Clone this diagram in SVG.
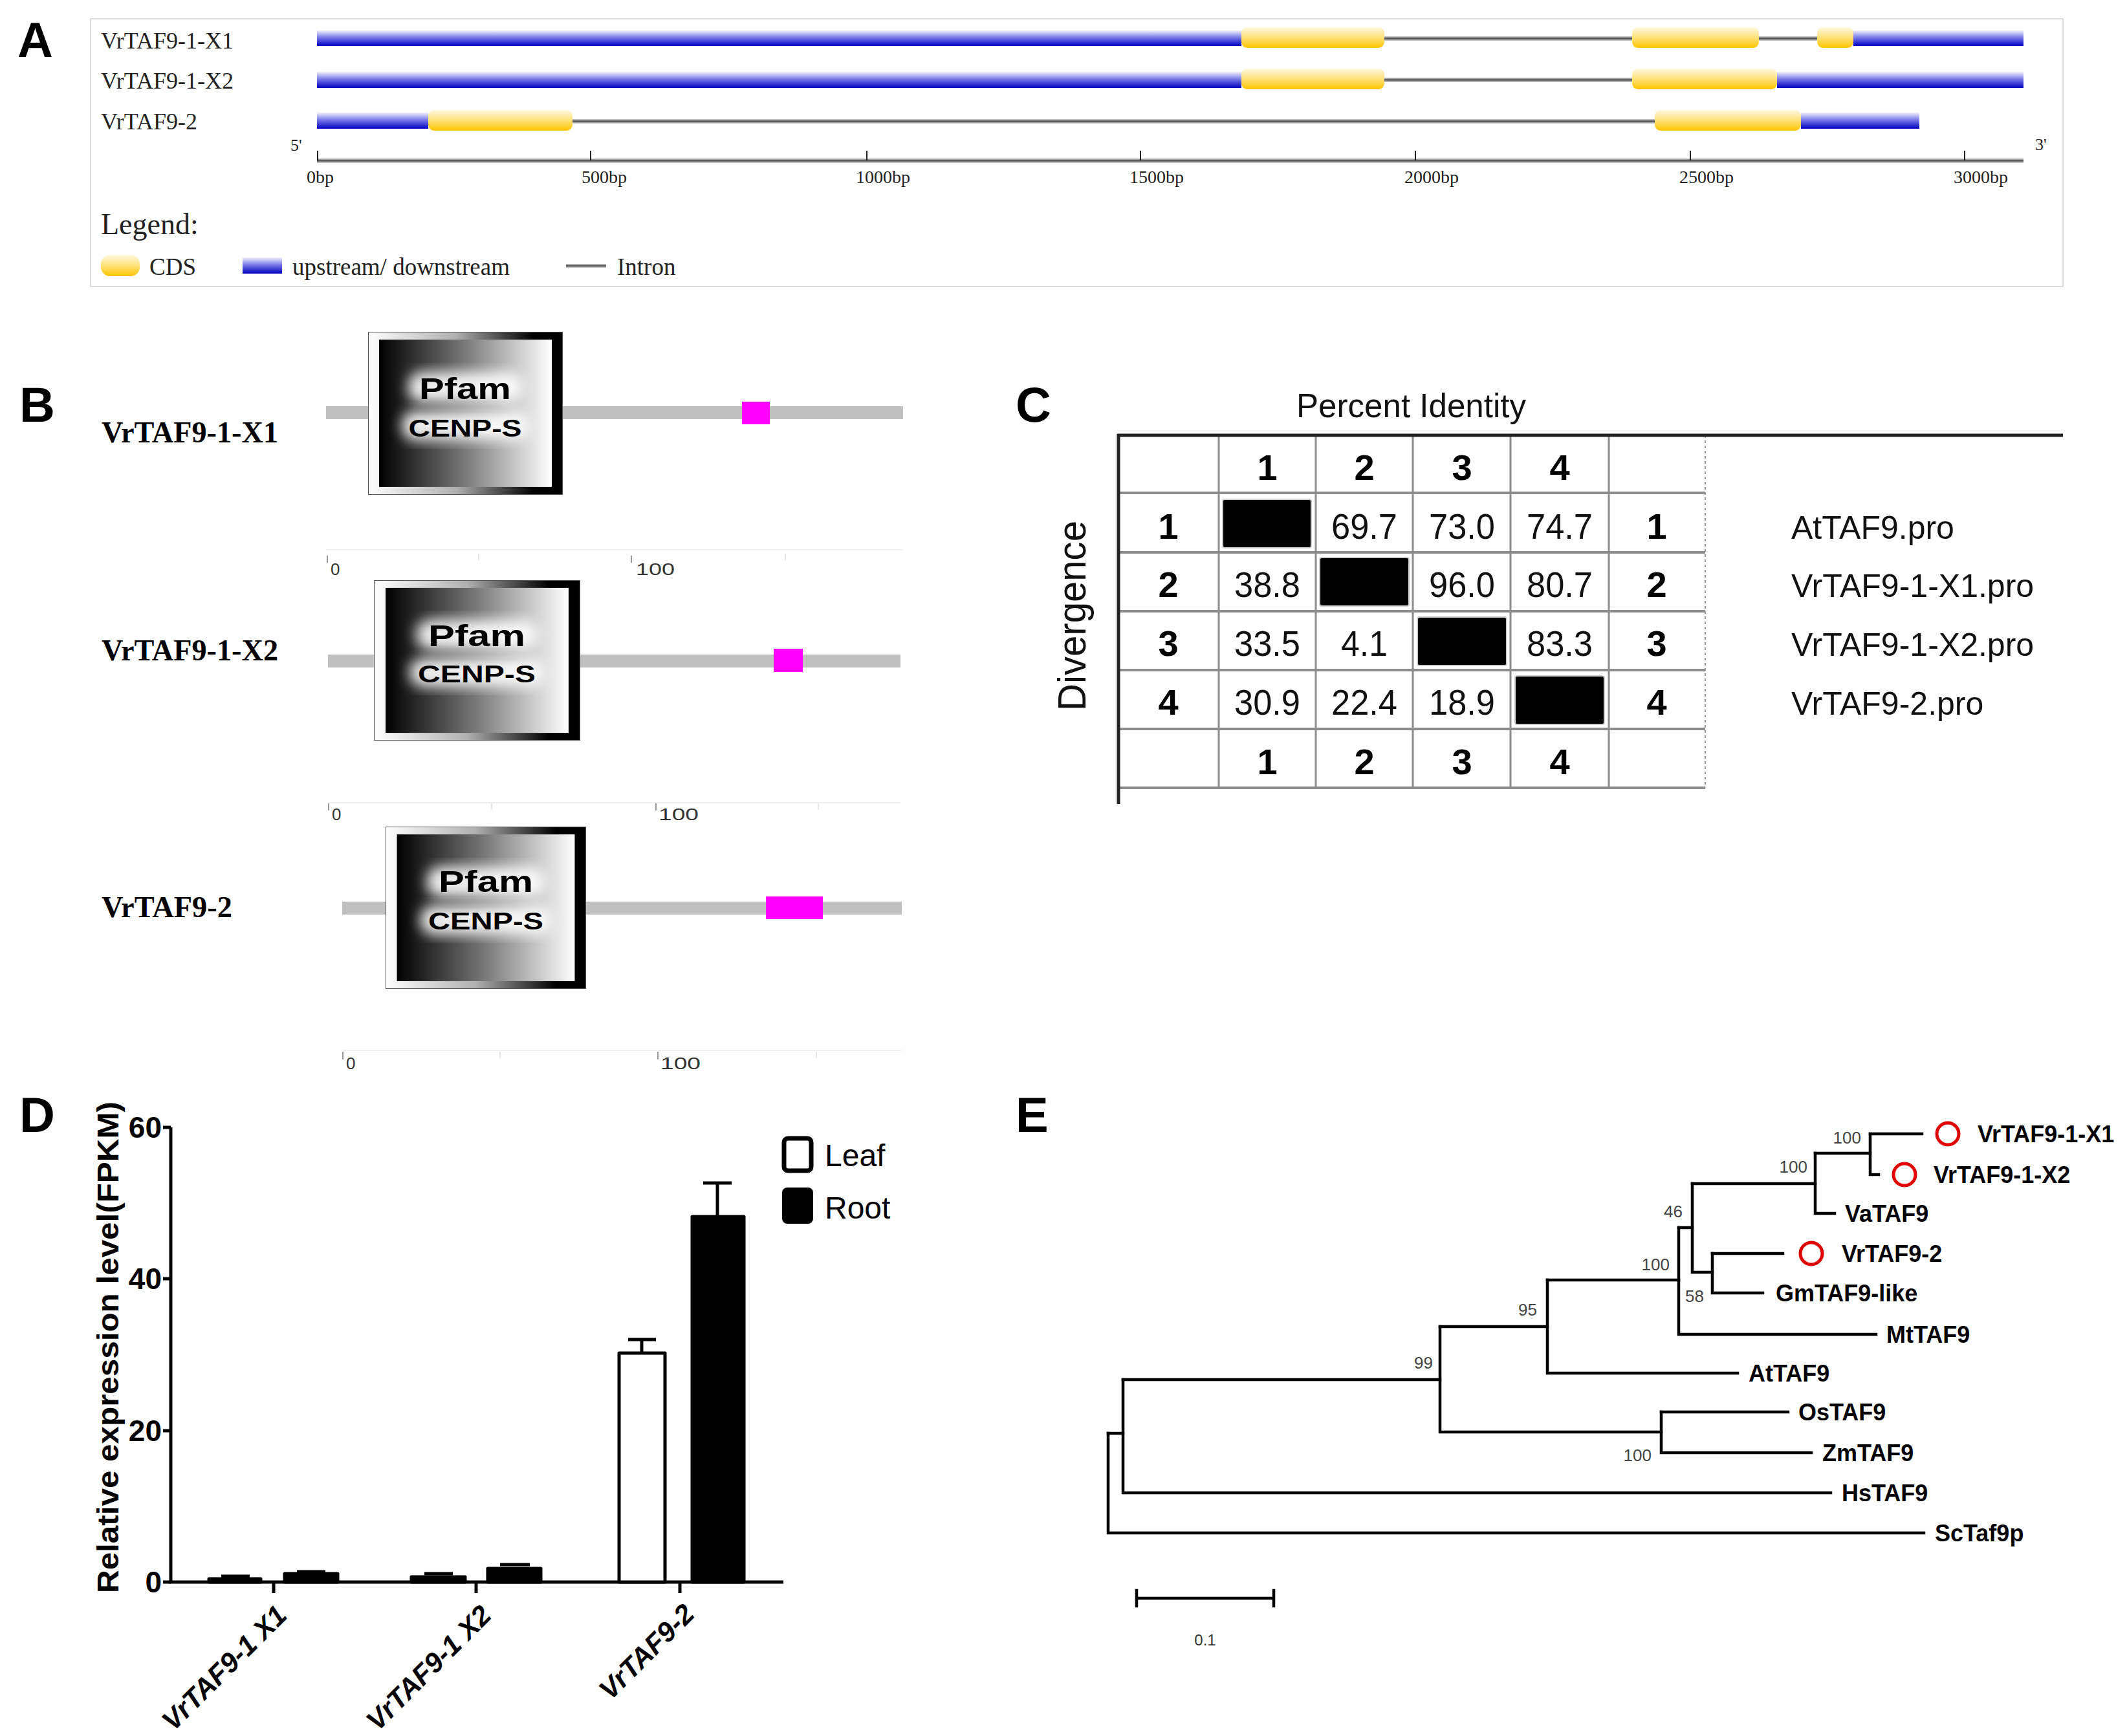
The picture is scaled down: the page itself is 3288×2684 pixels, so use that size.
<svg xmlns="http://www.w3.org/2000/svg" width="3288" height="2684" viewBox="0 0 3288 2684">
<style>
.panel{font-family:"Liberation Sans",Arial,sans-serif;font-weight:bold;font-size:76px;fill:#000}
.serif{font-family:"Liberation Serif","Times New Roman",serif;fill:#222}
.blab{font-family:"Liberation Serif","Times New Roman",serif;font-weight:bold;font-size:46px;fill:#000}
.sans{font-family:"Liberation Sans",Arial,sans-serif}
.b{font-weight:bold}
.tick{stroke:#222;stroke-width:2}
.tree{stroke:#000;stroke-width:4.5;fill:none;stroke-linecap:square}
.boot{font-family:"Liberation Sans",Arial,sans-serif;font-size:26px;fill:#444;text-anchor:end}
.leafname{font-family:"Liberation Sans",Arial,sans-serif;font-weight:bold;font-size:36px;fill:#000}
.circ{fill:none;stroke:#e00000;stroke-width:5}
.rowline{stroke:#8c8c8c;stroke-width:4}
.colline{stroke:#8c8c8c;stroke-width:3}
.num{font-family:"Liberation Sans",Arial,sans-serif;font-size:56px;text-anchor:middle;fill:#111}
.bnum{font-family:"Liberation Sans",Arial,sans-serif;font-weight:bold;font-size:56px;text-anchor:middle;fill:#000}
.pname{font-family:"Liberation Sans",Arial,sans-serif;font-size:50px;fill:#111}
.ax{stroke:#000;stroke-width:5;fill:none}
</style>
<defs>
<linearGradient id="gBlue" x1="0" y1="0" x2="0" y2="1"><stop offset="0" stop-color="#f2f2ff"/><stop offset="0.45" stop-color="#7a7ae8"/><stop offset="1" stop-color="#0000c0"/></linearGradient>
<linearGradient id="gYel" x1="0" y1="0" x2="0" y2="1"><stop offset="0" stop-color="#fff8e0"/><stop offset="0.5" stop-color="#ffe27a"/><stop offset="1" stop-color="#ffc400"/></linearGradient>
<linearGradient id="gIntron" x1="0" y1="0" x2="0" y2="1"><stop offset="0" stop-color="#d8d8d8"/><stop offset="0.5" stop-color="#505050"/><stop offset="1" stop-color="#d8d8d8"/></linearGradient>
<linearGradient id="gFrame" x1="0" y1="0" x2="1" y2="0"><stop offset="0" stop-color="#ffffff"/><stop offset="0.45" stop-color="#b0b0b0"/><stop offset="0.85" stop-color="#000"/><stop offset="1" stop-color="#000"/></linearGradient>
<linearGradient id="gInner" x1="0" y1="0" x2="1" y2="0"><stop offset="0" stop-color="#000"/><stop offset="0.5" stop-color="#7a7a7a"/><stop offset="1" stop-color="#fff"/></linearGradient>
<filter id="blur" x="-30%" y="-30%" width="160%" height="160%"><feGaussianBlur stdDeviation="10"/></filter>
<symbol id="pfamBox" viewBox="0 0 300 250" preserveAspectRatio="none">
<rect x="0" y="0" width="300" height="250" fill="url(#gFrame)" stroke="#555" stroke-width="2"/>
<rect x="17" y="12" width="266" height="226" fill="url(#gInner)"/>
<rect x="62" y="62" width="176" height="46" rx="20" fill="#fff" opacity="0.9" filter="url(#blur)"/>
<rect x="52" y="122" width="196" height="44" rx="20" fill="#fff" opacity="0.9" filter="url(#blur)"/>
</symbol>
</defs>
<rect width="3288" height="2684" fill="#fff"/>

<!-- Panel A -->
<g id="panelA">
<rect x="140" y="29" width="3049" height="414" fill="#fff" stroke="#dcdcdc" stroke-width="2"/>
<text class="panel" x="27" y="88">A</text>
<g id="A-row1">
<text class="serif" x="156" y="75" font-size="36">VrTAF9-1-X1</text>
<rect x="490" y="47" width="1429" height="24" fill="url(#gBlue)"/>
<rect x="2140" y="56" width="383" height="7" fill="url(#gIntron)"/>
<rect x="2719" y="56" width="90" height="7" fill="url(#gIntron)"/>
<rect x="1919" y="42" width="221" height="32" rx="9" fill="url(#gYel)"/>
<rect x="2523" y="42" width="196" height="32" rx="9" fill="url(#gYel)"/>
<rect x="2809" y="42" width="56" height="32" rx="9" fill="url(#gYel)"/>
<rect x="2865" y="47" width="263" height="24" fill="url(#gBlue)"/>
</g>
<g id="A-row2">
<text class="serif" x="156" y="137" font-size="36">VrTAF9-1-X2</text>
<rect x="490" y="111" width="1429" height="25" fill="url(#gBlue)"/>
<rect x="2140" y="120" width="383" height="7" fill="url(#gIntron)"/>
<rect x="1919" y="106" width="221" height="32" rx="9" fill="url(#gYel)"/>
<rect x="2523" y="106" width="224" height="32" rx="9" fill="url(#gYel)"/>
<rect x="2747" y="111" width="381" height="25" fill="url(#gBlue)"/>
</g>
<g id="A-row3">
<text class="serif" x="156" y="200" font-size="36">VrTAF9-2</text>
<rect x="490" y="174" width="172" height="25" fill="url(#gBlue)"/>
<rect x="885" y="184" width="1673" height="7" fill="url(#gIntron)"/>
<rect x="662" y="170" width="223" height="32" rx="9" fill="url(#gYel)"/>
<rect x="2558" y="170" width="226" height="32" rx="9" fill="url(#gYel)"/>
<rect x="2784" y="174" width="183" height="25" fill="url(#gBlue)"/>
</g>
<g id="A-axis">
<rect x="490" y="245" width="2638" height="7" fill="url(#gIntron)"/>
<line class="tick" x1="491" y1="233" x2="491" y2="248"/>
<line class="tick" x1="913" y1="233" x2="913" y2="248"/>
<line class="tick" x1="1340" y1="233" x2="1340" y2="248"/>
<line class="tick" x1="1763" y1="233" x2="1763" y2="248"/>
<line class="tick" x1="2188" y1="233" x2="2188" y2="248"/>
<line class="tick" x1="2613" y1="233" x2="2613" y2="248"/>
<line class="tick" x1="3037" y1="233" x2="3037" y2="248"/>
<text class="serif" font-size="28" x="474" y="283">0bp</text>
<text class="serif" font-size="28" x="899" y="283">500bp</text>
<text class="serif" font-size="28" x="1323" y="283">1000bp</text>
<text class="serif" font-size="28" x="1746" y="283">1500bp</text>
<text class="serif" font-size="28" x="2171" y="283">2000bp</text>
<text class="serif" font-size="28" x="2596" y="283">2500bp</text>
<text class="serif" font-size="28" x="3020" y="283">3000bp</text>
<text class="serif" font-size="26" x="449" y="233">5'</text>
<text class="serif" font-size="26" x="3146" y="232">3'</text>
</g>
<g id="A-legend">
<text class="serif" font-size="46" x="156" y="362">Legend:</text>
<rect x="156" y="394" width="60" height="33" rx="14" fill="url(#gYel)"/>
<text class="serif" font-size="37" x="231" y="425">CDS</text>
<rect x="375" y="398" width="61" height="25" fill="url(#gBlue)"/>
<text class="serif" font-size="37" x="452" y="425">upstream/ downstream</text>
<rect x="875" y="408" width="62" height="6" fill="url(#gIntron)"/>
<text class="serif" font-size="37" x="954" y="425">Intron</text>
</g>
</g>

<!-- Panel B -->
<g id="panelB">
<text class="panel" x="30" y="652">B</text>
<g id="B-row1">
<text class="blab" x="157" y="684" textLength="273" lengthAdjust="spacingAndGlyphs">VrTAF9-1-X1</text>
<rect x="504" y="628" width="892" height="20" fill="#c0c0c0"/>
<rect x="1147" y="621" width="43" height="35" fill="#ff00ff"/>
<use href="#pfamBox" x="569" y="513" width="301" height="252"/>
<text class="sans b" font-size="46" x="719" y="617" text-anchor="middle" textLength="142" lengthAdjust="spacingAndGlyphs">Pfam</text>
<text class="sans b" font-size="36" x="719" y="675" text-anchor="middle" textLength="175" lengthAdjust="spacingAndGlyphs">CENP-S</text>
<line x1="504" y1="850" x2="1396" y2="850" stroke="#f0f0f0" stroke-width="2"/>
<line x1="506" y1="859" x2="506" y2="870" stroke="#999" stroke-width="2"/>
<line x1="976" y1="859" x2="976" y2="870" stroke="#999" stroke-width="2"/>
<line x1="740" y1="856" x2="740" y2="866" stroke="#e6e6e6" stroke-width="2"/>
<line x1="1214" y1="856" x2="1214" y2="866" stroke="#e6e6e6" stroke-width="2"/>
<text class="sans" font-size="26" x="511" y="889" fill="#333">0</text>
<text class="sans" font-size="26" x="983" y="889" fill="#333" textLength="60" lengthAdjust="spacingAndGlyphs">100</text>
</g>
<g id="B-row2">
<text class="blab" x="157" y="1021" textLength="273" lengthAdjust="spacingAndGlyphs">VrTAF9-1-X2</text>
<rect x="507" y="1012" width="885" height="20" fill="#c0c0c0"/>
<rect x="1196" y="1003" width="45" height="36" fill="#ff00ff"/>
<use href="#pfamBox" x="578" y="897" width="319" height="248"/>
<text class="sans b" font-size="46" x="737" y="999" text-anchor="middle" textLength="150" lengthAdjust="spacingAndGlyphs">Pfam</text>
<text class="sans b" font-size="36" x="737" y="1055" text-anchor="middle" textLength="182" lengthAdjust="spacingAndGlyphs">CENP-S</text>
<line x1="507" y1="1241" x2="1392" y2="1241" stroke="#f0f0f0" stroke-width="2"/>
<line x1="508" y1="1242" x2="508" y2="1253" stroke="#999" stroke-width="2"/>
<line x1="1014" y1="1242" x2="1014" y2="1253" stroke="#999" stroke-width="2"/>
<line x1="760" y1="1242" x2="760" y2="1252" stroke="#e6e6e6" stroke-width="2"/>
<line x1="1265" y1="1242" x2="1265" y2="1252" stroke="#e6e6e6" stroke-width="2"/>
<text class="sans" font-size="26" x="513" y="1268" fill="#333">0</text>
<text class="sans" font-size="26" x="1018" y="1268" fill="#333" textLength="62" lengthAdjust="spacingAndGlyphs">100</text>
</g>
<g id="B-row3">
<text class="blab" x="157" y="1418" textLength="202" lengthAdjust="spacingAndGlyphs">VrTAF9-2</text>
<rect x="529" y="1394" width="865" height="20" fill="#c0c0c0"/>
<rect x="1184" y="1386" width="88" height="35" fill="#ff00ff"/>
<use href="#pfamBox" x="596" y="1278" width="310" height="251"/>
<text class="sans b" font-size="46" x="751" y="1379" text-anchor="middle" textLength="146" lengthAdjust="spacingAndGlyphs">Pfam</text>
<text class="sans b" font-size="36" x="751" y="1437" text-anchor="middle" textLength="178" lengthAdjust="spacingAndGlyphs">CENP-S</text>
<line x1="529" y1="1624" x2="1394" y2="1624" stroke="#f0f0f0" stroke-width="2"/>
<line x1="530" y1="1626" x2="530" y2="1638" stroke="#999" stroke-width="2"/>
<line x1="1017" y1="1626" x2="1017" y2="1638" stroke="#999" stroke-width="2"/>
<line x1="773" y1="1626" x2="773" y2="1636" stroke="#e6e6e6" stroke-width="2"/>
<line x1="1262" y1="1626" x2="1262" y2="1636" stroke="#e6e6e6" stroke-width="2"/>
<text class="sans" font-size="26" x="535" y="1653" fill="#333">0</text>
<text class="sans" font-size="26" x="1021" y="1653" fill="#333" textLength="62" lengthAdjust="spacingAndGlyphs">100</text>
</g>
</g>

<!-- Panel C -->
<g id="panelC">
<text class="panel" x="1570" y="652">C</text>
<text class="sans" font-size="52" x="2004" y="645" fill="#111" textLength="355" lengthAdjust="spacingAndGlyphs">Percent Identity</text>
<text class="sans" font-size="62" transform="translate(1678,952) rotate(-90)" text-anchor="middle" fill="#111" textLength="294" lengthAdjust="spacingAndGlyphs">Divergence</text>
<g id="C-grid">
<line class="rowline" x1="1729" y1="762" x2="2636" y2="762"/>
<line class="rowline" x1="1729" y1="854" x2="2636" y2="854"/>
<line class="rowline" x1="1729" y1="945" x2="2636" y2="945"/>
<line class="rowline" x1="1729" y1="1036" x2="2636" y2="1036"/>
<line class="rowline" x1="1729" y1="1127" x2="2636" y2="1127"/>
<line class="rowline" x1="1729" y1="1218" x2="2636" y2="1218"/>
<line class="colline" x1="1884" y1="673" x2="1884" y2="1218"/>
<line class="colline" x1="2034" y1="673" x2="2034" y2="1218"/>
<line class="colline" x1="2184" y1="673" x2="2184" y2="1218"/>
<line class="colline" x1="2335" y1="673" x2="2335" y2="1218"/>
<line class="colline" x1="2487" y1="673" x2="2487" y2="1218"/>
<line x1="2636" y1="673" x2="2636" y2="1218" stroke="#999" stroke-width="2" stroke-dasharray="4 4"/>
<line x1="1727" y1="673" x2="3189" y2="673" stroke="#222" stroke-width="5"/>
<line x1="1729" y1="671" x2="1729" y2="1243" stroke="#222" stroke-width="5"/>
<rect x="1890" y="772" width="137" height="75" rx="3" fill="#000" stroke="#ccc" stroke-width="2"/>
<rect x="2040" y="862" width="138" height="75" rx="3" fill="#000" stroke="#ccc" stroke-width="2"/>
<rect x="2191" y="954" width="138" height="75" rx="3" fill="#000" stroke="#ccc" stroke-width="2"/>
<rect x="2342" y="1045" width="138" height="75" rx="3" fill="#000" stroke="#ccc" stroke-width="2"/>
</g>
<g id="C-text">
<text class="bnum" x="1959" y="742">1</text>
<text class="bnum" x="2109" y="742">2</text>
<text class="bnum" x="2260" y="742">3</text>
<text class="bnum" x="2411" y="742">4</text>
<text class="bnum" x="1806" y="833">1</text>
<text class="num" x="2109" y="833" textLength="102" lengthAdjust="spacingAndGlyphs">69.7</text>
<text class="num" x="2260" y="833" textLength="102" lengthAdjust="spacingAndGlyphs">73.0</text>
<text class="num" x="2411" y="833" textLength="102" lengthAdjust="spacingAndGlyphs">74.7</text>
<text class="bnum" x="2561" y="833">1</text>
<text class="bnum" x="1806" y="923">2</text>
<text class="num" x="1959" y="923" textLength="102" lengthAdjust="spacingAndGlyphs">38.8</text>
<text class="num" x="2260" y="923" textLength="102" lengthAdjust="spacingAndGlyphs">96.0</text>
<text class="num" x="2411" y="923" textLength="102" lengthAdjust="spacingAndGlyphs">80.7</text>
<text class="bnum" x="2561" y="923">2</text>
<text class="bnum" x="1806" y="1014">3</text>
<text class="num" x="1959" y="1014" textLength="102" lengthAdjust="spacingAndGlyphs">33.5</text>
<text class="num" x="2109" y="1014" textLength="72" lengthAdjust="spacingAndGlyphs">4.1</text>
<text class="num" x="2411" y="1014" textLength="102" lengthAdjust="spacingAndGlyphs">83.3</text>
<text class="bnum" x="2561" y="1014">3</text>
<text class="bnum" x="1806" y="1105">4</text>
<text class="num" x="1959" y="1105" textLength="102" lengthAdjust="spacingAndGlyphs">30.9</text>
<text class="num" x="2109" y="1105" textLength="102" lengthAdjust="spacingAndGlyphs">22.4</text>
<text class="num" x="2260" y="1105" textLength="102" lengthAdjust="spacingAndGlyphs">18.9</text>
<text class="bnum" x="2561" y="1105">4</text>
<text class="bnum" x="1959" y="1197">1</text>
<text class="bnum" x="2109" y="1197">2</text>
<text class="bnum" x="2260" y="1197">3</text>
<text class="bnum" x="2411" y="1197">4</text>
<text class="pname" x="2769" y="833">AtTAF9.pro</text>
<text class="pname" x="2769" y="923">VrTAF9-1-X1.pro</text>
<text class="pname" x="2769" y="1014">VrTAF9-1-X2.pro</text>
<text class="pname" x="2769" y="1105">VrTAF9-2.pro</text>
</g>
</g>

<!-- Panel D -->
<g id="panelD">
<text class="panel" x="30" y="1750">D</text>
<text class="sans b" font-size="46" transform="translate(183,2083) rotate(-90)" text-anchor="middle" textLength="760" lengthAdjust="spacingAndGlyphs">Relative expression level(FPKM)</text>
<g id="D-axes">
<polyline class="ax" points="264,1743 264,2446 1211,2446"/>
<line class="ax" x1="252" y1="1743" x2="264" y2="1743"/>
<line class="ax" x1="252" y1="1977" x2="264" y2="1977"/>
<line class="ax" x1="252" y1="2212" x2="264" y2="2212"/>
<line class="ax" x1="252" y1="2446" x2="264" y2="2446"/>
<line class="ax" x1="423" y1="2446" x2="423" y2="2463"/>
<line class="ax" x1="736" y1="2446" x2="736" y2="2463"/>
<line class="ax" x1="1051" y1="2446" x2="1051" y2="2463"/>
<text class="sans b" font-size="46" x="250" y="1759" text-anchor="end">60</text>
<text class="sans b" font-size="46" x="250" y="1993" text-anchor="end">40</text>
<text class="sans b" font-size="46" x="250" y="2228" text-anchor="end">20</text>
<text class="sans b" font-size="46" x="250" y="2462" text-anchor="end">0</text>
</g>
<g id="D-bars" stroke="#000" stroke-width="5" stroke-linejoin="round">
<rect x="323" y="2441" width="80" height="5" fill="#000"/>
<line x1="342" y1="2437" x2="386" y2="2437"/>
<rect x="440" y="2433" width="82" height="13" fill="#000"/>
<line x1="459" y1="2430" x2="503" y2="2430"/>
<rect x="636" y="2438" width="83" height="8" fill="#000"/>
<line x1="656" y1="2433" x2="700" y2="2433"/>
<rect x="754" y="2425" width="82" height="21" fill="#000"/>
<line x1="773" y1="2419" x2="819" y2="2419"/>
<rect x="957" y="2092" width="71" height="354" fill="#fff"/>
<line x1="992" y1="2092" x2="992" y2="2071"/>
<line x1="971" y1="2071" x2="1014" y2="2071"/>
<rect x="1070" y="1881" width="80" height="565" fill="#000"/>
<line x1="1109" y1="1881" x2="1109" y2="1829"/>
<line x1="1087" y1="1829" x2="1131" y2="1829"/>
</g>
<g id="D-xlabels" class="sans b" font-size="43" font-style="italic" text-anchor="end">
<text transform="translate(446,2500) rotate(-45)">VrTAF9-1 X1</text>
<text transform="translate(762,2500) rotate(-45)">VrTAF9-1 X2</text>
<text transform="translate(1076,2498) rotate(-45)">VrTAF9-2</text>
</g>
<g id="D-legend">
<rect x="1212" y="1760" width="42" height="50" rx="6" fill="#fff" stroke="#000" stroke-width="7"/>
<text class="sans" font-size="48" x="1275" y="1803">Leaf</text>
<rect x="1209" y="1836" width="48" height="56" rx="8" fill="#000"/>
<text class="sans" font-size="48" x="1275" y="1884">Root</text>
</g>
</g>

<!-- Panel E -->
<g id="panelE">
<text class="panel" x="1570" y="1750">E</text>
<g id="E-connectors">
<path class="tree" d="M1713,2216 V2370 H2974"/>
<path class="tree" d="M1713,2216 H1736"/>
<path class="tree" d="M1736,2133 V2308 H2830"/>
<path class="tree" d="M1736,2133 H2226"/>
<path class="tree" d="M2226,2051 V2214 H2568"/>
<path class="tree" d="M2568,2183 V2246 H2800"/>
<path class="tree" d="M2568,2183 H2764"/>
<path class="tree" d="M2226,2051 H2392"/>
<path class="tree" d="M2392,1979 V2123 H2686"/>
<path class="tree" d="M2392,1979 H2595"/>
<path class="tree" d="M2595,1898 V2063 H2900"/>
<path class="tree" d="M2595,1898 H2616"/>
<path class="tree" d="M2616,1830 V1967 H2647"/>
<path class="tree" d="M2647,1938 V1999 H2725"/>
<path class="tree" d="M2647,1938 H2756"/>
<path class="tree" d="M2616,1830 H2806"/>
<path class="tree" d="M2806,1783 V1876 H2836"/>
<path class="tree" d="M2806,1783 H2891"/>
<path class="tree" d="M2891,1753 V1816 H2904"/>
<path class="tree" d="M2891,1753 H2971"/>
</g>
<g id="E-bootstrap">
<text class="boot" x="2877" y="1768">100</text>
<text class="boot" x="2794" y="1813">100</text>
<text class="boot" x="2601" y="1882">46</text>
<text class="boot" x="2581" y="1964">100</text>
<text class="boot" x="2634" y="2013">58</text>
<text class="boot" x="2376" y="2034">95</text>
<text class="boot" x="2215" y="2116">99</text>
<text class="boot" x="2553" y="2259">100</text>
</g>
<g id="E-leaves">
<circle class="circ" cx="3011" cy="1753" r="17"/>
<circle class="circ" cx="2944" cy="1816" r="17"/>
<circle class="circ" cx="2800" cy="1938" r="17"/>
<text class="leafname" x="3057" y="1766">VrTAF9-1-X1</text>
<text class="leafname" x="2989" y="1829">VrTAF9-1-X2</text>
<text class="leafname" x="2852" y="1889">VaTAF9</text>
<text class="leafname" x="2847" y="1951">VrTAF9-2</text>
<text class="leafname" x="2745" y="2012">GmTAF9-like</text>
<text class="leafname" x="2916" y="2076">MtTAF9</text>
<text class="leafname" x="2703" y="2136">AtTAF9</text>
<text class="leafname" x="2780" y="2196">OsTAF9</text>
<text class="leafname" x="2817" y="2259">ZmTAF9</text>
<text class="leafname" x="2847" y="2321">HsTAF9</text>
<text class="leafname" x="2991" y="2383">ScTaf9p</text>
</g>
<g id="E-scale">
<path class="tree" d="M1757,2459 V2483 M1757,2471 H1969 M1969,2459 V2483"/>
<text class="sans" font-size="24" x="1863" y="2544" text-anchor="middle" fill="#333">0.1</text>
</g>
</g>
</svg>
